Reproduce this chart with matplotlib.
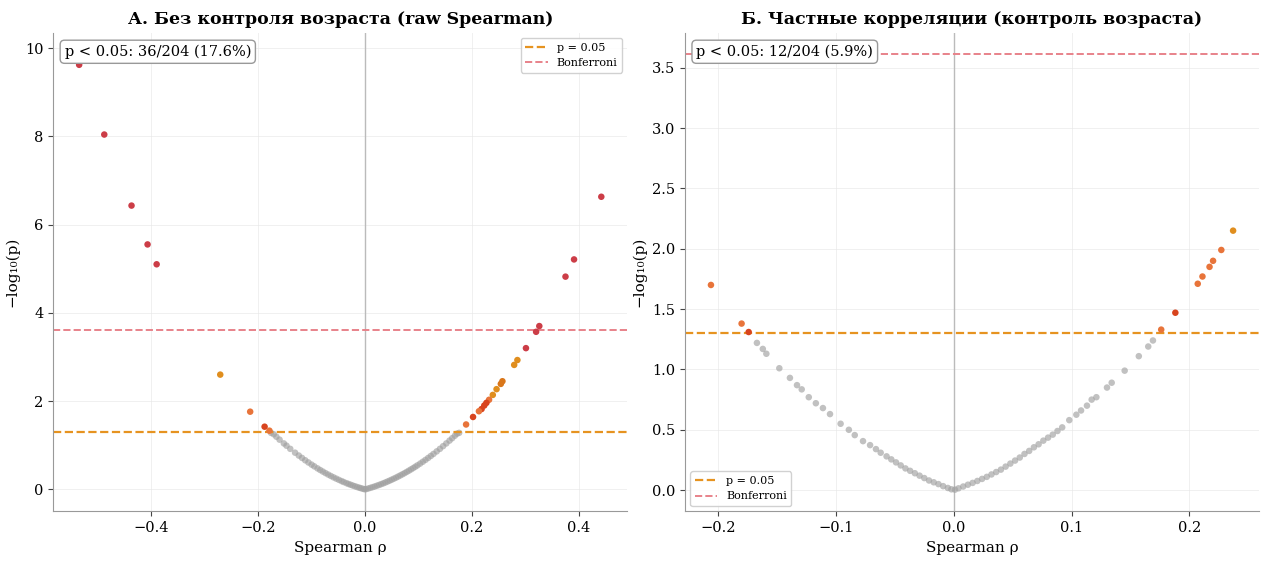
import numpy as np
import matplotlib
matplotlib.use("Agg")
import matplotlib.pyplot as plt

plt.rcParams['font.family'] = ['DejaVu Serif']

N_TOTAL = 204
BONF = -np.log10(0.05 / N_TOTAL)
P05 = -np.log10(0.05)

RED = '#cc3d47'
ORANGE = '#e08e1e'
ORED = '#e8743a'
VERM = '#d8441e'
DORANGE = '#d9761a'

# panel A: significant points (rho, -log10 p, colour)
a_sig_rho = [-0.535, -0.488, -0.437, -0.407, -0.390, -0.271, -0.215, -0.188, -0.179,
             0.442, 0.391, 0.375, 0.326, 0.320, 0.301, 0.285, 0.279, 0.257, 0.254,
             0.246, 0.239, 0.232, 0.227, 0.223, 0.218, 0.213, 0.202, 0.189]
a_sig_y = [9.62, 8.04, 6.43, 5.55, 5.10, 2.60, 1.76, 1.42, 1.33,
           6.63, 5.21, 4.82, 3.70, 3.57, 3.20, 2.93, 2.82, 2.45, 2.39,
           2.27, 2.14, 2.03, 1.96, 1.90, 1.82, 1.77, 1.64, 1.47]
a_sig_col = [RED, RED, RED, RED, RED, ORANGE, ORED, VERM, ORED,
             RED, RED, RED, RED, RED, RED, ORANGE, ORANGE, DORANGE, DORANGE,
             ORANGE, ORANGE, ORED, VERM, VERM, VERM, ORED, VERM, ORED]

# panel A: non-significant points
a_ns_rho = [-0.176, -0.171, -0.166, -0.160, -0.152, -0.147, -0.140, -0.131, -0.124,
            -0.118, -0.112, -0.106, -0.100, -0.095, -0.089, -0.084, -0.079, -0.074,
            -0.069, -0.064, -0.059, -0.054, -0.049, -0.044, -0.040, -0.035, -0.031,
            -0.027, -0.023, -0.019, -0.015, -0.011, -0.008, -0.004, -0.001,
            0.002, 0.006, 0.010, 0.014, 0.018, 0.022, 0.026, 0.030, 0.034, 0.038,
            0.042, 0.046, 0.050, 0.054, 0.058, 0.062, 0.066, 0.070, 0.074, 0.078,
            0.082, 0.086, 0.090, 0.094, 0.098, 0.103, 0.108, 0.113, 0.118, 0.123,
            0.128, 0.134, 0.140, 0.146, 0.152, 0.158, 0.163, 0.168, 0.172, 0.176]
a_ns_y = [1.28, 1.249, 1.193, 1.126, 1.041, 0.989, 0.918, 0.831, 0.766,
          0.712, 0.659, 0.609, 0.560, 0.521, 0.475, 0.438, 0.403, 0.368,
          0.335, 0.303, 0.272, 0.243, 0.215, 0.187, 0.166, 0.141, 0.122,
          0.104, 0.086, 0.070, 0.053, 0.038, 0.027, 0.013, 0.003,
          0.006, 0.020, 0.034, 0.050, 0.065, 0.082, 0.099, 0.118, 0.136, 0.156,
          0.177, 0.198, 0.220, 0.243, 0.266, 0.291, 0.316, 0.342, 0.368, 0.396,
          0.424, 0.453, 0.482, 0.513, 0.544, 0.584, 0.626, 0.668, 0.712, 0.757,
          0.803, 0.860, 0.918, 0.979, 1.041, 1.105, 1.159, 1.215, 1.261, 1.28]

# panel B: significant points
b_sig_rho = [-0.206, -0.180, -0.174, 0.176, 0.188, 0.207, 0.211, 0.217, 0.220, 0.227, 0.237]
b_sig_y = [1.70, 1.38, 1.31, 1.33, 1.47, 1.71, 1.77, 1.85, 1.90, 1.99, 2.15]
b_sig_col = [ORED, ORED, VERM, ORED, VERM, ORED, ORED, ORED, ORED, ORED, ORANGE]

# panel B: non-significant points
b_ns_rho = [-0.167, -0.162, -0.159, -0.148, -0.139, -0.133, -0.129, -0.123, -0.117,
            -0.111, -0.105, -0.096, -0.089, -0.084, -0.077, -0.071, -0.066, -0.062,
            -0.057, -0.053, -0.049, -0.045, -0.041, -0.037, -0.033, -0.029, -0.025,
            -0.021, -0.017, -0.013, -0.009, -0.005, -0.002,
            0.001, 0.004, 0.008, 0.012, 0.016, 0.020, 0.024, 0.028, 0.032, 0.036,
            0.040, 0.044, 0.048, 0.052, 0.056, 0.060, 0.064, 0.068, 0.072, 0.076,
            0.080, 0.084, 0.088, 0.092, 0.098, 0.104, 0.108, 0.113, 0.117, 0.121,
            0.130, 0.134, 0.145, 0.157, 0.165, 0.169]
b_ns_y = [1.22, 1.17, 1.13, 1.01, 0.93, 0.87, 0.835, 0.77, 0.72,
          0.68, 0.63, 0.55, 0.50, 0.456, 0.406, 0.373, 0.34, 0.31,
          0.28, 0.255, 0.23, 0.205, 0.18, 0.16, 0.14, 0.12, 0.10,
          0.08, 0.065, 0.05, 0.033, 0.018, 0.007,
          0.004, 0.015, 0.03, 0.045, 0.06, 0.076, 0.093, 0.11, 0.13, 0.15,
          0.17, 0.195, 0.22, 0.245, 0.27, 0.30, 0.325, 0.355, 0.38, 0.41,
          0.435, 0.46, 0.49, 0.52, 0.58, 0.625, 0.66, 0.70, 0.75, 0.77,
          0.85, 0.89, 0.99, 1.11, 1.19, 1.24]

panels = [
    ('А. Без контроля возраста (raw Spearman)', a_ns_rho, a_ns_y, a_sig_rho, a_sig_y, a_sig_col,
     'p < 0.05: 36/204 (17.6%)', 'upper right', (-0.5, 10.35)),
    ('Б. Частные корреляции (контроль возраста)', b_ns_rho, b_ns_y, b_sig_rho, b_sig_y, b_sig_col,
     'p < 0.05: 12/204 (5.9%)', 'lower left', None),
]

fig, axes = plt.subplots(1, 2, figsize=(12.63, 5.62), dpi=100)
fig.subplots_adjust(left=0.042, right=0.997, top=0.942, bottom=0.09, wspace=0.1)

for ax, (title, nsx, nsy, sx, sy, sc, txt, legloc, ylim) in zip(axes, panels):
    ax.grid(True, color='#e6e6e6', linewidth=0.7, alpha=0.6)
    ax.set_axisbelow(True)
    ax.axvline(0, color='#bbbbbb', linewidth=1.0, zorder=1)
    ax.scatter(nsx, nsy, s=22, color='#a0a0a0', alpha=0.65, edgecolors='none', zorder=2)
    ax.scatter(sx, sy, s=22, c=sc, edgecolors='none', zorder=3)
    ax.axhline(P05, color='#e69320', linestyle='--', linewidth=1.6, label='p = 0.05', zorder=2)
    ax.axhline(BONF, color='#e8828a', linestyle='--', linewidth=1.4, label='Bonferroni', zorder=2)
    if ylim:
        ax.set_ylim(*ylim)
    ax.set_title(title, fontsize=12.5, fontweight='bold')
    ax.set_xlabel('Spearman ρ', fontsize=11)
    ax.set_ylabel('−log₁₀(p)', fontsize=11)
    ax.tick_params(labelsize=10.5, color='#444444')
    ax.text(0.02, 0.975, txt, transform=ax.transAxes, fontsize=10.5, va='top', ha='left',
            bbox=dict(boxstyle='round,pad=0.3', facecolor='white', edgecolor='#999999'), zorder=5)
    ax.legend(loc=legloc, fontsize=8, frameon=True, framealpha=0.9, edgecolor='#cccccc')
    for side in ['top', 'right']:
        ax.spines[side].set_visible(False)
    for side in ['left', 'bottom']:
        ax.spines[side].set_color('#999999')

fig.savefig('out.png', dpi=100)
